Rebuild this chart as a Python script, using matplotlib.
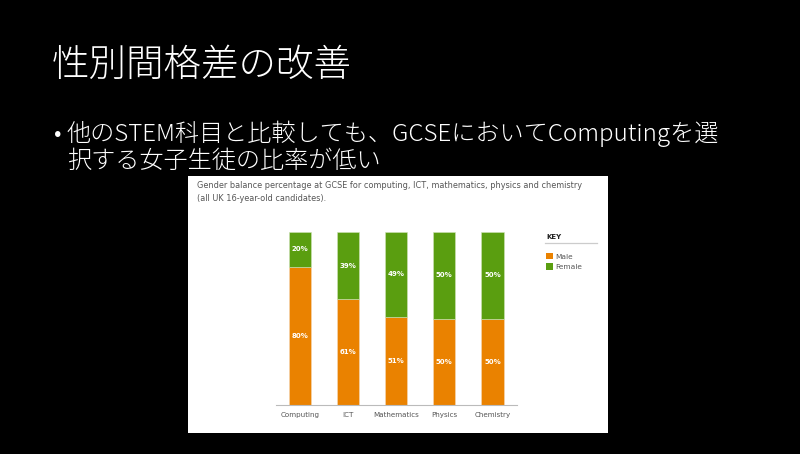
import matplotlib.pyplot as plt
from matplotlib.lines import Line2D
from matplotlib.patches import Patch

subjects = ['Computing', 'ICT', 'Mathematics', 'Physics', 'Chemistry']
male = [80, 61, 51, 50, 50]
female = [20, 39, 49, 50, 50]

title = '性別間格差の改善'
bullet = ['他のSTEM科目と比較しても、GCSEにおいてComputingを選',
          '択する女子生徒の比率が低い']
chart_title = ('Gender balance percentage at GCSE for computing, ICT, mathematics, physics and chemistry\n'
               '(all UK 16-year-old candidates).')

ORANGE = '#EA8200'
GREEN = '#5A9E10'
GREY = '#555555'

W, H = 800, 454
def fx(px): return px / W
def fy(py): return 1 - py / H

plt.rcParams['font.family'] = ['Noto Sans CJK JP', 'DejaVu Sans']

fig = plt.figure(figsize=(8, 4.54), dpi=100, facecolor='black')

# slide text
fig.text(fx(52), fy(65), title, color='white', fontsize=27, va='center', ha='left',
         fontweight='light')
fig.text(fx(54), fy(134), '•', color='white', fontsize=16, va='center', ha='left')
fig.text(fx(67), fy(134), bullet[0], color='white', fontsize=17.4, va='center', ha='left',
         fontweight='light')
fig.text(fx(67), fy(161), bullet[1], color='white', fontsize=17.4, va='center', ha='left',
         fontweight='light')

# white panel holding the chart
panel = fig.add_axes([fx(188), fy(433), fx(608) - fx(188), fy(176) - fy(433)])
panel.set_facecolor('white')
panel.set_xticks([]); panel.set_yticks([])
for s in panel.spines.values():
    s.set_visible(False)

fig.text(fx(197), fy(192), chart_title, color=GREY, fontsize=5.85, va='center', ha='left',
         linespacing=1.5, family=['DejaVu Sans'])

ax = fig.add_axes([fx(276), fy(405), fx(517) - fx(276), fy(232) - fy(405)])
ax.set_facecolor('none')
x = range(len(subjects))
ax.bar(x, male, width=0.46, color=ORANGE, edgecolor='#f4d9b8', linewidth=0.4)
ax.bar(x, female, bottom=male, width=0.46, color=GREEN, edgecolor='#cfe3b8', linewidth=0.4)
for i in x:
    ax.text(i, male[i] / 2, f'{male[i]}%', color='white', fontsize=5, fontweight='bold',
            ha='center', va='center', family=['DejaVu Sans'])
    ax.text(i, male[i] + female[i] / 2, f'{female[i]}%', color='white', fontsize=5,
            fontweight='bold', ha='center', va='center', family=['DejaVu Sans'])
ax.set_xlim(-0.5, 4.51)
ax.set_ylim(0, 100)
ax.set_yticks([])
ax.set_xticks(list(x))
ax.set_xticklabels(subjects, fontsize=5.1, color=GREY, family=['DejaVu Sans'])
ax.tick_params(axis='x', length=0, pad=5)
for s in ['top', 'left', 'right']:
    ax.spines[s].set_visible(False)
ax.spines['bottom'].set_color('#bbbbbb')
ax.spines['bottom'].set_linewidth(0.8)

# legend
fig.text(fx(546), fy(237), 'KEY', color='#222222', fontsize=5, fontweight='bold',
         va='center', ha='left', family=['DejaVu Sans'])
fig.add_artist(Line2D([fx(545), fx(597)], [fy(243), fy(243)], color='#cccccc', lw=0.9))
handles = [Patch(facecolor=ORANGE, label='Male'), Patch(facecolor=GREEN, label='Female')]
fig.legend(handles=handles, loc='upper left', bbox_to_anchor=(fx(541), fy(248)),
           frameon=False, prop={'family': ['DejaVu Sans'], 'size': 5.3},
           labelcolor=GREY, handlelength=0.9, handleheight=0.9, handletextpad=0.4,
           labelspacing=0.5, borderpad=0.2)

fig.savefig('out.png', dpi=100, facecolor='black')
